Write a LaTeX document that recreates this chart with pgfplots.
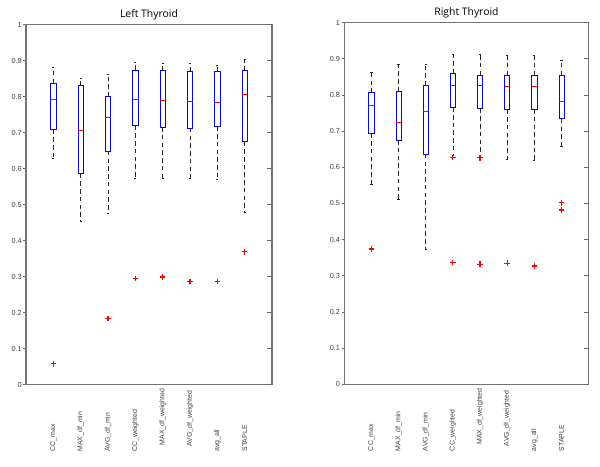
\documentclass[border=0pt]{standalone}
\usepackage{fontspec}
\setmainfont{Liberation Sans}
\newfontfamily\titlefont{Open Sans}
\usepackage{pgfplots}
\pgfplotsset{compat=1.18}
\usepgfplotslibrary{statistics}

\newcommand\tickfont{\fontsize{5.5}{6}\selectfont}
\newcommand\labfont{\fontsize{5.2}{6}\selectfont}
\pgfplotsset{
  thy/.style={
    scale only axis, xmin=0, xmax=9, ymin=0, ymax=1, clip=false,
    axis line style={draw=black!55, line width=0.8pt},
    xtick=\empty,
    ytick={0,0.1,0.2,0.3,0.4,0.5,0.6,0.7,0.8,0.9,1},
    ytick pos=left, tick align=outside, major tick length=2pt,
    every tick/.style={black!60, line width=0.5pt},
    yticklabel style={font=\tickfont, text=black!75, inner sep=1pt},
    /pgf/number format/assume math mode=true,
    title style={font=\titlefont\fontsize{7.8}{9}\selectfont, anchor=base, at={(0.5,1)}, yshift=-0.75pt},
    boxplot/draw direction=y,
    boxplot/box extend=0.19,
    boxplot/whisker extend=0.08,
    boxplot/every box/.style={draw=blue, line width=0.55pt},
    boxplot/every median/.style={draw=red, line width=0.55pt},
    boxplot/every whisker/.style={draw=black!85, dash pattern=on 3.4pt off 2.4pt, line width=0.45pt},
  },
  rt/.style={
    scale only axis, xmin=0, xmax=9, ymin=0, ymax=1,
    axis line style={draw=none}, xtick=\empty,
    ytick={0,0.1,0.2,0.3,0.4,0.5,0.6,0.7,0.8,0.9,1},
    ytick pos=right, tick align=inside, major tick length=3.5pt,
    every tick/.style={black!60, line width=0.5pt},
    yticklabels={},
  },
  bx/.style={black, mark=none},
  outl/.style={only marks, mark=+, mark size=2.1pt, color=red, mark options={draw=red, solid, line width=0.85pt}},
}
\newcommand\lab[3][50.25pt]{\node[rotate=90, anchor=west, inner sep=0pt, font=\labfont, text=black!75] at ([yshift=-#1]axis cs:#2,0) {#3};}

\begin{document}
\begin{tikzpicture}
\path[use as bounding box] (0,0) rectangle (450pt,-350.25pt);

% ---------------- Left Thyroid ----------------
\begin{axis}[thy, at={(19.5pt,-18.375pt)}, anchor=north west, width=184.5pt, height=270.15pt, title={Left Thyroid}]
\addplot[bx, boxplot prepared={draw position=1, lower whisker=0.629, lower quartile=0.708, median=0.792, upper quartile=0.837, upper whisker=0.881}] coordinates {};
\addplot[bx, boxplot prepared={draw position=2, lower whisker=0.454, lower quartile=0.586, median=0.706, upper quartile=0.830, upper whisker=0.850}] coordinates {};
\addplot[bx, boxplot prepared={draw position=3, lower whisker=0.476, lower quartile=0.649, median=0.741, upper quartile=0.800, upper whisker=0.861}] coordinates {};
\addplot[bx, boxplot prepared={draw position=4, lower whisker=0.574, lower quartile=0.719, median=0.792, upper quartile=0.874, upper whisker=0.894}] coordinates {};
\addplot[bx, boxplot prepared={draw position=5, lower whisker=0.573, lower quartile=0.715, median=0.790, upper quartile=0.872, upper whisker=0.892}] coordinates {};
\addplot[bx, boxplot prepared={draw position=6, lower whisker=0.573, lower quartile=0.713, median=0.786, upper quartile=0.870, upper whisker=0.892}] coordinates {};
\addplot[bx, boxplot prepared={draw position=7, lower whisker=0.571, lower quartile=0.717, median=0.785, upper quartile=0.869, upper whisker=0.888}] coordinates {};
\addplot[bx, boxplot prepared={draw position=8, lower whisker=0.478, lower quartile=0.675, median=0.807, upper quartile=0.872, upper whisker=0.903}] coordinates {};
\addplot[outl] coordinates {(1,0.058) (3,0.184) (4,0.295) (5,0.299) (6,0.286) (7,0.286) (8,0.369)};
\lab{1}{CC\_max}
\lab{2}{MAX\_df\_min}
\lab{3}{AVG\_df\_min}
\lab{4}{CC\_weighted}
\lab[45.5pt]{5}{MAX\_df\_weighted}
\lab[46.5pt]{6}{AVG\_df\_weighted}
\lab{7}{avg\_all}
\lab{8}{STAPLE}
\end{axis}
\begin{axis}[rt, at={(19.5pt,-18.375pt)}, anchor=north west, width=184.5pt, height=270.15pt]
\end{axis}

% ---------------- Right Thyroid ----------------
\begin{axis}[thy, at={(258.2pt,-17.0pt)}, anchor=north west, width=183.3pt, height=271.2pt, title={Right Thyroid}]
\addplot[bx, boxplot prepared={draw position=1, lower whisker=0.552, lower quartile=0.694, median=0.772, upper quartile=0.806, upper whisker=0.864}] coordinates {};
\addplot[bx, boxplot prepared={draw position=2, lower whisker=0.512, lower quartile=0.675, median=0.723, upper quartile=0.810, upper whisker=0.885}] coordinates {};
\addplot[bx, boxplot prepared={draw position=3, lower whisker=0.374, lower quartile=0.637, median=0.756, upper quartile=0.826, upper whisker=0.885}] coordinates {};
\addplot[bx, boxplot prepared={draw position=4, lower whisker=0.634, lower quartile=0.766, median=0.827, upper quartile=0.859, upper whisker=0.912}] coordinates {};
\addplot[bx, boxplot prepared={draw position=5, lower whisker=0.634, lower quartile=0.762, median=0.826, upper quartile=0.855, upper whisker=0.912}] coordinates {};
\addplot[bx, boxplot prepared={draw position=6, lower whisker=0.622, lower quartile=0.760, median=0.824, upper quartile=0.855, upper whisker=0.911}] coordinates {};
\addplot[bx, boxplot prepared={draw position=7, lower whisker=0.618, lower quartile=0.761, median=0.825, upper quartile=0.855, upper whisker=0.911}] coordinates {};
\addplot[bx, boxplot prepared={draw position=8, lower whisker=0.657, lower quartile=0.734, median=0.781, upper quartile=0.855, upper whisker=0.895}] coordinates {};
\addplot[outl] coordinates {(1,0.374) (4,0.627) (4,0.337) (5,0.626) (5,0.332) (6,0.335) (7,0.327) (8,0.502) (8,0.482)};
\lab{1}{CC\_max}
\lab{2}{MAX\_df\_min}
\lab{3}{AVG\_df\_min}
\lab{4}{CC\_weighted}
\lab[45.5pt]{5}{MAX\_df\_weighted}
\lab[46.5pt]{6}{AVG\_df\_weighted}
\lab{7}{avg\_all}
\lab{8}{STAPLE}
\end{axis}
\begin{axis}[rt, at={(258.2pt,-17.0pt)}, anchor=north west, width=183.3pt, height=271.2pt]
\end{axis}
\end{tikzpicture}
\end{document}
